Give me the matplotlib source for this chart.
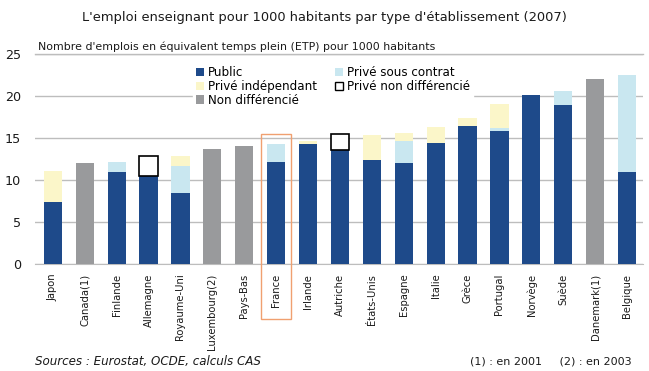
import matplotlib
matplotlib.use("Agg")
import matplotlib.pyplot as plt
from matplotlib.patches import Rectangle, Patch

plt.rcParams['font.family'] = ['DejaVu Sans']

countries = ["Japon", "Canada(1)", "Finlande", "Allemagne", "Royaume-Uni",
             "Luxembourg(2)", "Pays-Bas", "France", "Irlande", "Autriche",
             "États-Unis", "Espagne", "Italie", "Grèce", "Portugal", "Norvège",
             "Suède", "Danemark(1)", "Belgique"]

public =          [7.4, 0, 10.9, 10.5, 8.4, 0, 0, 12.1, 14.3, 13.6,
                   12.4, 12.0, 14.4, 16.4, 15.8, 20.1, 18.9, 0, 11.0]
prive_contrat =   [0, 0, 1.2, 0, 3.3, 0, 0, 2.15, 0, 0,
                   0, 2.6, 0, 0, 0.4, 0, 1.75, 0, 11.55]
prive_indep =     [3.65, 0, 0, 0, 1.2, 0, 0, 0, 0.35, 0,
                   3.0, 1.0, 1.85, 1.0, 2.9, 0, 0, 0, 0]
prive_non_diff =  [0, 0, 0, 2.35, 0, 0, 0, 0, 0, 1.9,
                   0, 0, 0, 0, 0, 0, 0, 0, 0]
non_diff =        [0, 12.0, 0, 0, 0, 13.65, 14.1, 0, 0, 0,
                   0, 0, 0, 0, 0, 0, 0, 22.0, 0]

c_public = "#1e4a8a"
c_contrat = "#c9e7f0"
c_indep = "#fbf6c9"
c_grey = "#999a9c"
c_text = "#1a1a1a"

fig = plt.figure(figsize=(6.49, 3.71), dpi=100)
ax = fig.add_axes([35 / 649, 1 - 264 / 371, 608 / 649, 210 / 371])

x = list(range(len(countries)))
w = 0.57


def stack(values, bottom, **kw):
    """Draw only the non-empty segments of one stacked series."""
    idx = [i for i, v in enumerate(values) if v > 0]
    ax.bar([x[i] for i in idx], [values[i] for i in idx], w,
           bottom=[bottom[i] for i in idx], zorder=3, **kw)


zero = [0] * len(countries)
b_contrat = list(public)
b_indep = [p + c for p, c in zip(public, prive_contrat)]
b_nd = [b + i for b, i in zip(b_indep, prive_indep)]

stack(non_diff, zero, color=c_grey)
stack(public, zero, color=c_public)
stack(prive_contrat, b_contrat, color=c_contrat)
stack(prive_indep, b_indep, color=c_indep)
stack(prive_non_diff, b_nd, facecolor="white", edgecolor="black", linewidth=1.2)

ax.set_xlim(-0.56, len(countries) - 0.5)
ax.set_ylim(0, 25)
ax.set_yticks([0, 5, 10, 15, 20, 25])
ax.yaxis.grid(True, color="#bdbdbd", linewidth=1.0, zorder=0)
for s in ["left", "right", "top"]:
    ax.spines[s].set_visible(False)
ax.spines["bottom"].set_color("#bdbdbd")
ax.tick_params(axis="y", length=0, pad=10, labelsize=9.2, labelcolor=c_text)
ax.tick_params(axis="x", length=0, pad=7, labelsize=7.2, labelcolor=c_text)
ax.set_xticks(x)
ax.set_xticklabels(countries, rotation=90)
ax.axhline(25, color="#bdbdbd", linewidth=1.0, zorder=1, clip_on=False)

# highlight box around France
fi = countries.index("France")
ax.add_patch(Rectangle((fi - 0.48, -6.6), 0.96, 22.1, fill=False,
                       edgecolor="#f0a070", linewidth=1.0, clip_on=False,
                       transform=ax.transData, zorder=4))

handles = [Patch(facecolor=c_public), Patch(facecolor=c_indep),
           Patch(facecolor=c_grey), Patch(facecolor=c_contrat),
           Patch(facecolor="white", edgecolor="black")]
labels = ["Public", "Privé indépendant", "Non différencié",
          "Privé sous contrat", "Privé non différencié"]
leg = ax.legend(handles, labels, ncol=2, loc="upper left",
                bbox_to_anchor=(0.26, 0.955), frameon=True,
                fancybox=False, framealpha=1, edgecolor="white",
                fontsize=8.6, handlelength=0.7, handleheight=0.7,
                handletextpad=0.3, columnspacing=1.5, labelspacing=0.05,
                borderpad=0.25, borderaxespad=0)
leg.set_zorder(5)

fig.text(0.5, 1 - 18 / 371, "L'emploi enseignant pour 1000 habitants par type d'établissement (2007)",
         ha="center", va="center", fontsize=9.4, color=c_text)
fig.text(38 / 649, 1 - 47 / 371, "Nombre d'emplois en équivalent temps plein (ETP) pour 1000 habitants",
         ha="left", va="center", fontsize=7.9, color=c_text)
fig.text(35 / 649, 1 - 362 / 371, "Sources : Eurostat, OCDE, calculs CAS",
         ha="left", va="center", fontsize=8.6, style="italic", color=c_text)
fig.text(632 / 649, 1 - 362 / 371, "(1) : en 2001     (2) : en 2003",
         ha="right", va="center", fontsize=8.0, color=c_text)

fig.savefig("out.png", dpi=100)
